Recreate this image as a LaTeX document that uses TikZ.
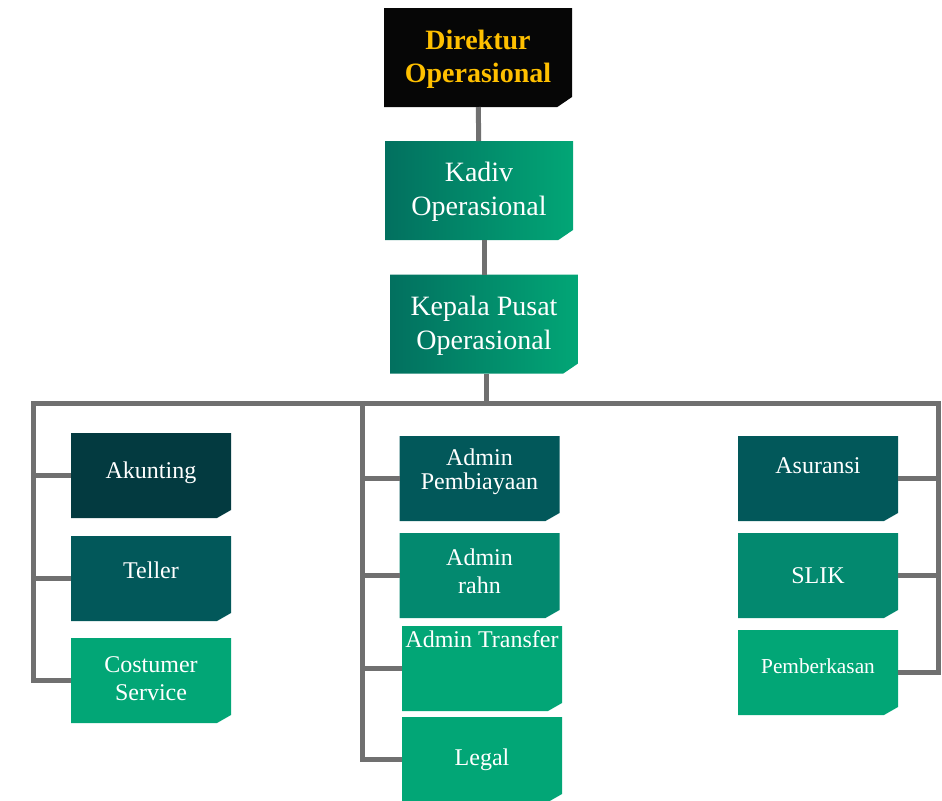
\documentclass[tikz,border=0pt]{standalone}
\usepackage{fontspec}
\setmainfont{Liberation Serif}
\definecolor{hitam}{HTML}{060606}
\definecolor{emas}{HTML}{FFC000}
\definecolor{tuaA}{HTML}{033A40}
\definecolor{tuaB}{HTML}{02585A}
\definecolor{sedang}{HTML}{03896F}
\definecolor{muda}{HTML}{02A676}
\definecolor{gradKiri}{HTML}{02705F}
\definecolor{garis}{HTML}{707070}

\begin{document}
\begin{tikzpicture}[x=0.75pt, y=-0.75pt,
  kotak/.style={inner sep=0pt, outer sep=0pt, minimum width=141pt, minimum height=74.25pt,
    path picture={\path[#1] (path picture bounding box.south west) -- (path picture bounding box.north west)
      -- (path picture bounding box.north east) -- ([yshift=7.5pt]path picture bounding box.south east)
      -- ([xshift=-11pt]path picture bounding box.south east) -- cycle;}},
  sub/.style={inner sep=0pt, outer sep=0pt, minimum width=120pt, minimum height=63.75pt,
    path picture={\path[#1] (path picture bounding box.south west) -- (path picture bounding box.north west)
      -- (path picture bounding box.north east) -- ([yshift=6pt]path picture bounding box.south east)
      -- ([xshift=-10.5pt]path picture bounding box.south east) -- cycle;}},
  tulis/.style={text=white, align=center, inner sep=1pt, font=\fontsize{18}{21}\selectfont},
  besar/.style={tulis, font=\fontsize{21}{25.5}\selectfont},
  wire/.style={draw=garis, line width=3.75pt}]
  \useasboundingbox (0,0) rectangle (942,800);
  % Kotak atas
  \node[kotak={fill=hitam}] (dir) at (478,57.5) {};
  \node[kotak={left color=gradKiri, right color=muda}] (kadiv) at (479,190.5) {};
  \node[kotak={left color=gradKiri, right color=muda}] (kep) at (484,324) {};
  \node[besar, text=emas, font=\bfseries\fontsize{21}{24.5}\selectfont] (dirT) at ([yshift=-1.5pt]dir.center) {Direktur\\Operasional};
  \node[besar] (kadivT) at ([yshift=-1pt]kadiv.center) {Kadiv\\Operasional};
  \node[besar] (kepT) at ([yshift=-1pt]kep.center) {Kepala Pusat\\Operasional};
  % Kolom kiri
  \node[sub={fill=tuaA}] (akun) at (151,475.5) {};
  \node[sub={fill=tuaB}] (tell) at (151,578.5) {};
  \node[sub={fill=muda}] (cs) at (151,680.5) {};
  \node[tulis] (akunT) at ([yshift=2pt]akun.center) {Akunting};
  \node[tulis] (tellT) at ([yshift=6pt]tell.center) {Teller};
  \node[tulis] (csT) at ([yshift=1.5pt]cs.center) {Costumer\\Service};
  % Kolom tengah
  \node[sub={fill=tuaB}] (pemb) at (479.5,478.5) {};
  \node[sub={fill=sedang}] (rahn) at (479.5,575.5) {};
  \node[sub={fill=muda}] (trf) at (482,668.5) {};
  \node[sub={fill=muda}] (legal) at (482,759.5) {};
  \node[tulis] (pembT) at ([yshift=5pt]pemb.center) {Admin\\[-3pt]Pembiayaan};
  \node[tulis] (rahnT) at ([yshift=3pt]rahn.center) {Admin\\rahn};
  \node[tulis] (trfT) at ([yshift=22pt]trf.center) {Admin Transfer};
  \node[tulis] (legalT) at (legal) {Legal};
  % Kolom kanan
  \node[sub={fill=tuaB}] (asur) at (818,478.5) {};
  \node[sub={fill=sedang}] (slik) at (818,575.5) {};
  \node[sub={fill=muda}] (berkas) at (818,672.5) {};
  \node[tulis] (asurT) at ([yshift=10pt]asur.center) {Asuransi};
  \node[tulis] (slikT) at (slik) {SLIK};
  \node[tulis, font=\fontsize{16}{19}\selectfont] (berkasT) at ([yshift=5pt]berkas.center) {Pemberkasan};
  % Garis penghubung
  \coordinate (lTop) at (33,403);
  \coordinate (mTop) at (362,403);
  \coordinate (rTop) at (938,403);
  \draw[wire] (dir) -- (kadiv);
  \draw[wire] (kep.north) -- (kep.north |- kadiv.south);
  \draw[wire] ([xshift=1.5pt]kep.south) -- ([xshift=1.5pt]kep.south |- lTop);
  \draw[wire, line cap=rect] (lTop) -- (rTop);
  \foreach \b in {akun,tell,cs} \draw[wire] (lTop) |- (\b.west);
  \foreach \b in {pemb,rahn,trf,legal} \draw[wire] (mTop) |- (\b.west);
  \foreach \b in {asur,slik,berkas} \draw[wire] (rTop) |- (\b.east);
\end{tikzpicture}
\end{document}
